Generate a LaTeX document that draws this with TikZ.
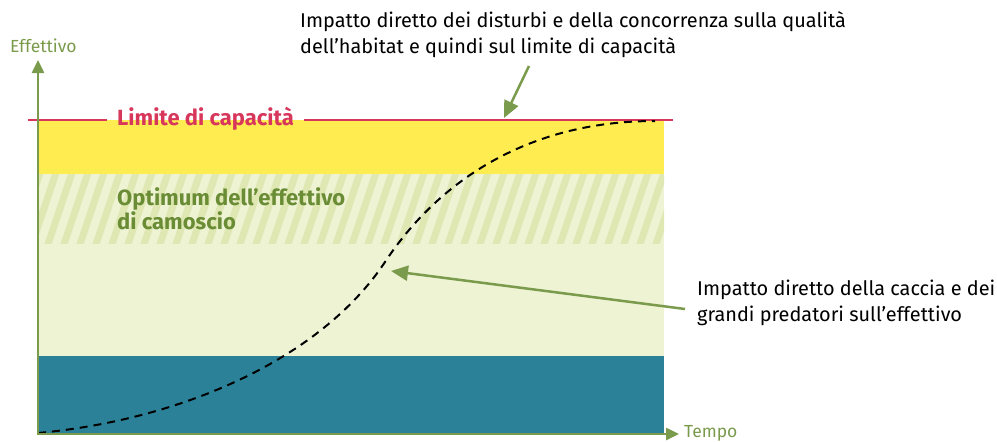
\documentclass[tikz,border=0pt]{standalone}
\usepackage{fontspec}
\setmainfont{Fira Sans}
\usetikzlibrary{arrows.meta}
\definecolor{axisgreen}{HTML}{7B9B4C}
\definecolor{txtgreen}{HTML}{6A8C35}
\definecolor{capred}{HTML}{D8375C}
\definecolor{bandyellow}{HTML}{FFEC50}
\definecolor{bandlight}{HTML}{EEF3D4}
\definecolor{stripe}{HTML}{DFE8B2}
\definecolor{teal}{HTML}{2B8298}
\tikzset{
  axis/.style={draw=axisgreen, line width=2.5pt, -{Triangle[length=13pt,width=12pt]}},
  pointer/.style={draw=axisgreen, line width=2.5pt, -{Triangle[length=17pt,width=15pt]}},
  note/.style={align=left, font=\fontsize{19.9}{26}\selectfont, text=black, inner sep=0pt},
  axlabel/.style={font=\fontsize{17.5}{20}\selectfont, text=axisgreen, inner sep=0pt},
  boldlabel/.style={align=left, font=\fontsize{22}{24}\selectfont\bfseries, inner sep=0pt},
}
\begin{document}
\begin{tikzpicture}[x=1pt,y=-1pt]
\useasboundingbox (0,0) rectangle (997,442);
% bands
\fill[bandyellow] (38,120) rectangle (664,174);
\fill[bandlight] (38,174) rectangle (664,356);
\begin{scope}
  \clip (38,174) rectangle (664,243);
  \foreach \i in {-2,...,42}
    \draw[stripe, line width=7pt] ({30+16*\i},250) -- ({30+16*\i+28},167);
\end{scope}
\fill[teal] (38,356) rectangle (664,434);
% limit line
\node[boldlabel, text=capred, anchor=base west] (lim) at (117,125.5) {Limite di capacità};
\coordinate (limL) at (28,120);
\coordinate (limR) at (673,120);
\draw[capred, line width=1.8pt] (limL) -- ([xshift=-10pt]lim.west |- limL);
\draw[capred, line width=1.8pt] ([xshift=10pt]lim.east |- limR) -- (limR);
% optimum label
\node[boldlabel, text=txtgreen, anchor=base west] (opt) at (117,229) {Optimum dell’effettivo\\di camoscio};
% curve
\coordinate (c0) at (38,433);
\coordinate (c1) at (385,262);
\coordinate (c2) at (655,121);
\draw[black, line width=2pt, dash pattern=on 8pt off 6pt]
  (c0) .. controls (180,420) and (320,360) .. (c1)
       .. controls (440,179) and (530,121) .. (c2);
% axes
\coordinate (o) at (38,435);
\coordinate (ytop) at (38,60);
\coordinate (xend) at (679,434);
\draw[axis] (o) -- (ytop);
\draw[axis] (36.75,434) -- (xend);
\node[axlabel, anchor=base west] (yl) at (10,52) {Effettivo};
\node[axlabel, anchor=base west] (xl) at (684,437.5) {Tempo};
% notes
\node[note, anchor=base west] (n1) at (300,53) {Impatto diretto dei disturbi e della concorrenza sulla qualità\\dell’habitat e quindi sul limite di capacità};
\node[note, anchor=base west] (n2) at (697,321) {Impatto diretto della caccia e dei\\grandi predatori sull’effettivo};
\coordinate (p1s) at (529,66);
\coordinate (p1e) at (504,118);
\draw[pointer] (p1s) -- (p1e);
\coordinate (p2s) at (685,309);
\coordinate (p2e) at (391,271);
\draw[pointer] (p2s) -- (p2e);
\end{tikzpicture}
\end{document}
